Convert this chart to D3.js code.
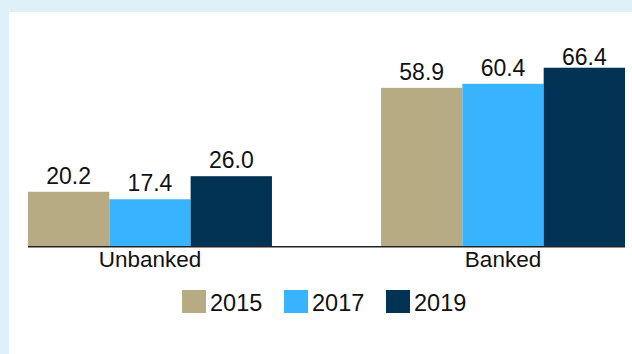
<!DOCTYPE html>
<html>
<head>
<meta charset="utf-8">
<script src="https://cdn.jsdelivr.net/npm/d3@7"></script>
<style>
  html, body { margin: 0; padding: 0; background: #ffffff; }
  svg { display: block; font-family: Arial, "Liberation Sans", sans-serif; }
</style>
</head>
<body>
<svg id="chart" width="632" height="354"></svg>
<script>
// Account ownership shares by survey year
const groups = ["Unbanked", "Banked"];
const years = ["2015", "2017", "2019"];
const unbanked = [20.2, 17.4, 26.0];
const banked = [58.9, 60.4, 66.4];
const colors = ["#b7ab84", "#38b4fe", "#023355"];

const series = [unbanked, banked];
const rows = groups.map((g, i) => ({ group: g, values: years.map((yr, j) => ({ year: yr, value: series[i][j] })) }));

const W = 632, H = 354;
const svg = d3.select("#chart");

// light blue frame on the top and left edges
svg.append("rect").attr("x", 0).attr("y", 0).attr("width", W).attr("height", H).attr("fill", "#dff1f8");
svg.append("rect").attr("x", 9).attr("y", 12).attr("width", W - 9).attr("height", H - 12).attr("fill", "#ffffff");

const baseY = 246;
const x0 = d3.scaleBand().domain(groups).range([28, 625]).paddingInner(0.309).paddingOuter(0);
const x1 = d3.scaleBand().domain(years).range([0, x0.bandwidth()]).padding(0);
const y = d3.scaleLinear().domain([0, 70]).range([baseY, baseY - 70 * 2.685]);
const color = d3.scaleOrdinal().domain(years).range(colors);

const g = svg.append("g");
const grp = g.selectAll("g.grp").data(rows).join("g")
  .attr("class", "grp")
  .attr("transform", d => `translate(${x0(d.group)},0)`);

grp.selectAll("rect").data(d => d.values).join("rect")
  .attr("x", d => x1(d.year))
  .attr("y", d => y(d.value))
  .attr("width", x1.bandwidth())
  .attr("height", d => baseY - y(d.value))
  .attr("fill", d => color(d.year));

// value labels above the bars, kept inside the plot top
grp.selectAll("text").data(d => d.values).join("text")
  .attr("x", d => x1(d.year) + x1.bandwidth() / 2)
  .attr("y", d => Math.max(y(d.value) - 8, 65))
  .attr("text-anchor", "middle")
  .attr("font-size", 23)
  .attr("fill", "#111")
  .text(d => d.value.toFixed(1));

// category axis
const axis = g.append("g").attr("transform", `translate(0,${baseY})`)
  .call(d3.axisBottom(x0).tickSize(0).tickSizeOuter(0));
axis.select(".domain").attr("stroke", "#222").attr("stroke-width", 1.6)
  .attr("d", `M28,0.8H625`);
axis.selectAll(".tick text")
  .attr("font-family", "Arial, 'Liberation Sans', sans-serif")
  .attr("font-size", 22.5)
  .attr("fill", "#111")
  .attr("dy", 0)
  .attr("y", 21);

// legend
const legend = svg.append("g").attr("transform", "translate(182,290)");
const item = legend.selectAll("g").data(years).join("g")
  .attr("transform", (d, i) => `translate(${i * 102},0)`);
item.append("rect").attr("width", 24).attr("height", 23).attr("fill", d => color(d));
item.append("text").attr("x", 28).attr("y", 21)
  .attr("font-size", 23.5).attr("fill", "#111").text(d => d);
</script>
</body>
</html>
